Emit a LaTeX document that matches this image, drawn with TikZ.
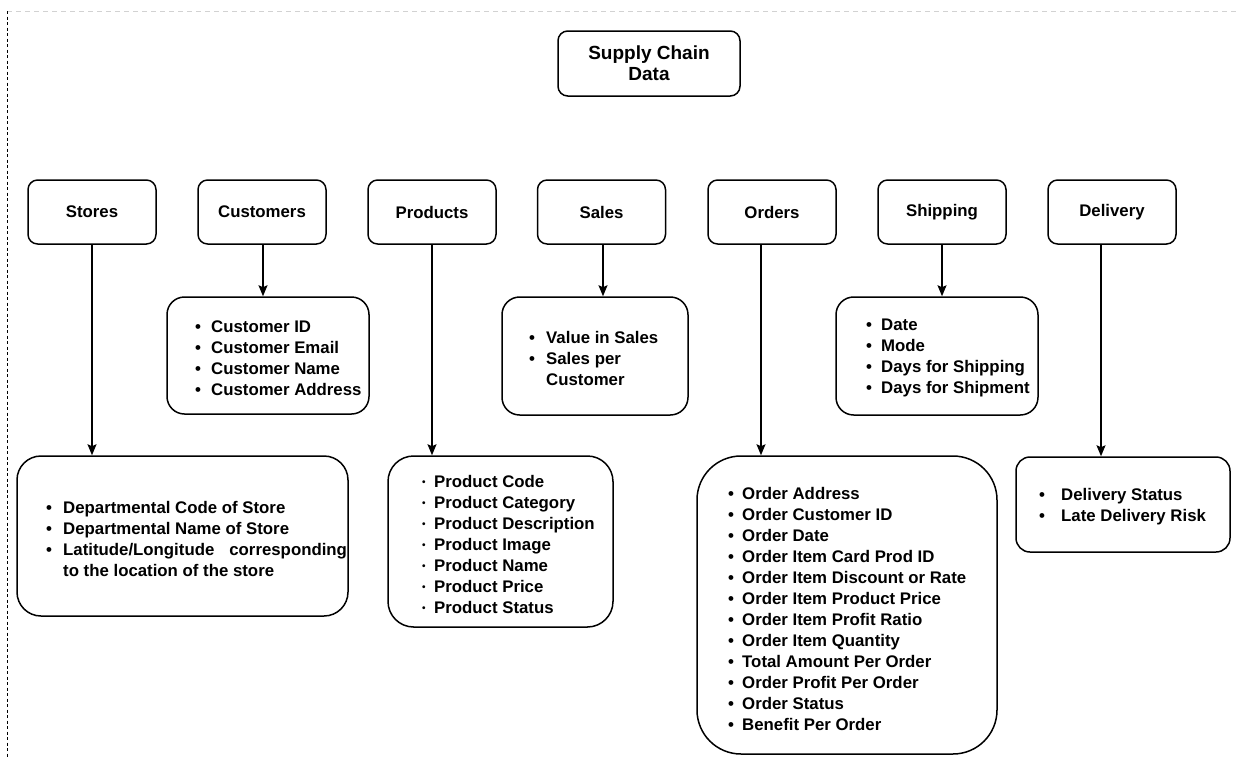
\documentclass[tikz,border=0pt]{standalone}
\usepackage{fontspec}
\setmainfont{Liberation Sans}
\usetikzlibrary{arrows.meta}

% bullet entry: fixed-width bullet column followed by the text
\newcommand{\bl}[2]{\makebox[#1][l]{\textbullet}#2}
\newcommand{\sbl}[2]{\makebox[#1][l]{\raisebox{1.6pt}{\fontsize{10}{10}\selectfont\textbullet}}#2}

\begin{document}
\begin{tikzpicture}[x=1pt,y=-1pt,
  every node/.style={font=\fontsize{16.8}{21}\selectfont\bfseries},
  boxbase/.style={draw=black, line width=1.5pt, fill=white, inner sep=0pt},
  topbox/.style={boxbase, rounded corners=9.6pt, minimum width=128pt, minimum height=64pt},
  listtext/.style={anchor=west, align=left, inner sep=0pt},
  link/.style={draw=black, line width=1.5pt, -{Stealth[length=11pt,width=9pt,inset=2pt]}}
]
% page frame
\fill[white] (0,0) rectangle (1237,758);
\useasboundingbox (0,0) rectangle (1237,758);
\draw[gray!35, line width=0.8pt, dash pattern=on 5pt off 4pt] (7,11) -- (1237,11);
\draw[black, line width=1pt, dash pattern=on 3pt off 2.5pt] (7,11) -- (7,758);

% root
\node[boxbase, rounded corners=9.75pt, minimum width=182pt, minimum height=65pt,
      align=center, font=\fontsize{19}{21}\selectfont\bfseries] (root) at (649,63.5)
      {Supply Chain\\Data};

% categories
\node[topbox] (stores)   at (92,212)   {Stores};
\node[topbox] (cust)     at (262,212)  {Customers};
\node[topbox] (prod)     at (432,212)  {Products};
\node[topbox] (sales)    at (601.5,212){Sales};
\node[topbox] (orders)   at (772,212)  {Orders};
\node[topbox] (ship)     at (942,212)  {Shipping};
\node[topbox] (deliv)    at (1112,212) {Delivery};

% attribute boxes
\node[boxbase, rounded corners=17.5pt, minimum width=202pt, minimum height=117pt] (custD)  at (268,355.5) {};
\node[boxbase, rounded corners=17.7pt, minimum width=186pt, minimum height=118pt] (salesD) at (595,356) {};
\node[boxbase, rounded corners=17.7pt, minimum width=202pt, minimum height=118pt] (shipD)  at (937,356) {};
\node[boxbase, rounded corners=24pt,   minimum width=331pt, minimum height=160pt] (storesD) at (182.5,536) {};
\node[boxbase, rounded corners=25.6pt, minimum width=225pt, minimum height=171pt] (prodD)  at (500.5,541.5) {};
\node[boxbase, rounded corners=44pt,   minimum width=300pt, minimum height=298pt] (ordersD) at (847,605) {};
\node[boxbase, rounded corners=14pt,   minimum width=214pt, minimum height=95pt]  (delivD) at (1123,504.5) {};

% attribute lists
\node[listtext] (custL) at (195,358) {%
  \bl{16pt}{Customer ID}\\ \bl{16pt}{Customer Email}\\
  \bl{16pt}{Customer Name}\\ \bl{16pt}{Customer Address}};
\node[listtext] (salesL) at (529,358) {%
  \bl{17pt}{Value in Sales}\\ \bl{17pt}{Sales per}\\ \hspace*{17pt}Customer};
\node[listtext] (shipL) at (866,358) {%
  \bl{15pt}{Date}\\ \bl{15pt}{Mode}\\
  \bl{15pt}{Days for Shipping}\\ \bl{15pt}{Days for Shipment}};
\node[listtext] (storesL) at (46,539) {%
  \bl{17pt}{Departmental Code of Store}\\ \bl{17pt}{Departmental Name of Store}\\
  \bl{17pt}{Latitude/Longitude\hspace{15pt}corresponding}\\
  \hspace*{17pt}to the location of the store};
\node[listtext] (prodL) at (422,544) {%
  \sbl{12pt}{Product Code}\\ \sbl{12pt}{Product Category}\\
  \sbl{12pt}{Product Description}\\ \sbl{12pt}{Product Image}\\
  \sbl{12pt}{Product Name}\\ \sbl{12pt}{Product Price}\\
  \sbl{12pt}{Product Status}};
\node[listtext] (ordersL) at (728,609) {%
  \bl{14pt}{Order Address}\\ \bl{14pt}{Order Customer ID}\\
  \bl{14pt}{Order Date}\\ \bl{14pt}{Order Item Card Prod ID}\\
  \bl{14pt}{Order Item Discount or Rate}\\ \bl{14pt}{Order Item Product Price}\\
  \bl{14pt}{Order Item Profit Ratio}\\ \bl{14pt}{Order Item Quantity}\\
  \bl{14pt}{Total Amount Per Order}\\ \bl{14pt}{Order Profit Per Order}\\
  \bl{14pt}{Order Status}\\ \bl{14pt}{Benefit Per Order}};
\node[listtext] (delivL) at (1039,507) {%
  \bl{22pt}{Delivery Status}\\ \bl{22pt}{Late Delivery Risk}};

% connectors
\draw[link] (stores.south) -- (stores.south |- storesD.north);
\draw[link] ([xshift=1pt]cust.south) -- ([xshift=1pt]cust.south |- custD.north);
\draw[link] (prod.south) -- (prod.south |- prodD.north);
\draw[link] ([xshift=1.5pt]sales.south) -- ([xshift=1.5pt]sales.south |- salesD.north);
\draw[link] ([xshift=-11pt]orders.south) -- ([xshift=-11pt]orders.south |- ordersD.north);
\draw[link] (ship.south) -- (ship.south |- shipD.north);
\draw[link] ([xshift=-11pt]deliv.south) -- ([xshift=-11pt]deliv.south |- delivD.north);
\end{tikzpicture}
\end{document}
